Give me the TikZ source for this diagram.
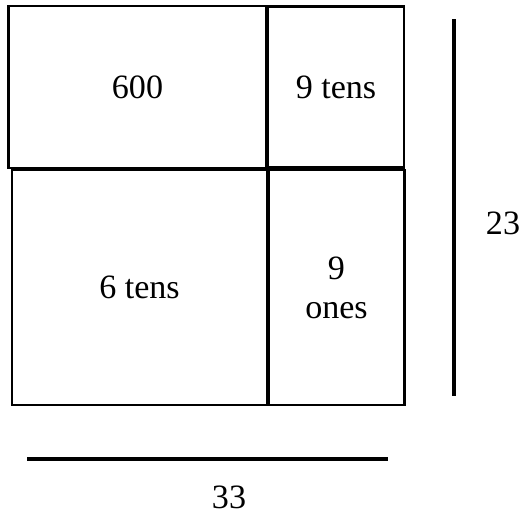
\documentclass[tikz,border=0pt]{standalone}
\usepackage{fontspec}
\setmainfont{Liberation Serif}
\usepackage{tikz}
\usetikzlibrary{positioning}
\definecolor{ink}{HTML}{000000}

\begin{document}
\begin{tikzpicture}[x=0.02cm,y=-0.02cm,font=\fontsize{19.4}{22.2}\selectfont,
  cell/.style={draw=ink,line width=1.4pt,inner sep=0pt,align=center},
  bar/.style={draw=ink,line width=2.8pt}]
\useasboundingbox (0,0) rectangle (526,515);
% area model, four parts
\node[cell,minimum width=258*0.02cm,minimum height=162*0.02cm] (hund) at (137.5,87) {600};
\node[cell,minimum width=136*0.02cm,minimum height=161*0.02cm] (tensA) at (336,87) {9 tens};
\node[cell,minimum width=255*0.02cm,minimum height=235*0.02cm] (tensB) at (139.5,287.5) {6 tens};
\node[cell,minimum width=136*0.02cm,minimum height=235*0.02cm] (ones) at (336.5,287.5) {9\\ones};
% side lengths
\draw[bar] (454,19) -- (454,396);
\draw[bar] (27,459) -- (388,459);
\node (hgt) at (503,223) {23};
\node (wid) at (229,497) {33};
\end{tikzpicture}
\end{document}
